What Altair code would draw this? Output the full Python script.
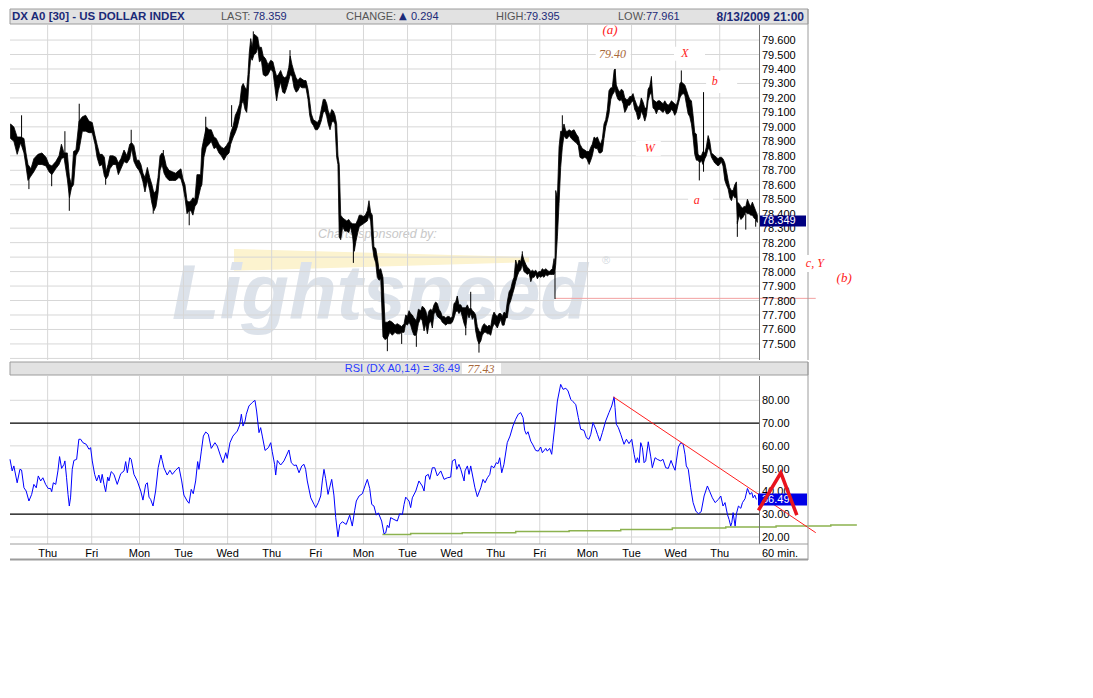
import altair as alt
import pandas as pd

# ---------------- values ----------------
# x = trading hours counted from the first "Thu" gridline (60-min bars)
day_t = [0, 24, 50, 74, 98, 122, 146, 172, 196, 220, 244, 268, 294, 318, 342, 366]
day_lbl = ["Thu", "Fri", "Mon", "Tue", "Wed", "Thu", "Fri", "Mon", "Tue", "Wed",
           "Thu", "Fri", "Mon", "Tue", "Wed", "Thu"]

price_t = [
    -20.2, -18.4, -16.6, -14.7, -12.9, -11.8, -10.7, -9.1, -7.5, -5.3,
    -3.1, -0.9, 0.7, 2.3, 4.4, 6.2, 7.5, 8.9, 10.7, 11.9,
    13.0, 14.1, 15.4, 17.1, 18.9, 20.7, 22.5, 24.3, 25.8, 26.9,
    28.3, 29.7, 30.9, 31.8, 32.9, 33.9, 35.6, 37.2, 38.5, 39.9,
    41.6, 43.2, 44.7, 45.8, 47.0, 48.5, 49.7, 50.8, 51.9, 53.0,
    54.3, 55.6, 56.8, 57.9, 59.0, 60.1, 61.2, 62.3, 63.4, 64.6,
    66.1, 67.9, 69.7, 71.5, 72.6, 73.7, 74.8, 75.9, 77.0, 78.1,
    79.1, 80.2, 81.3,
    83.3, 84.0, 85.1, 86.4, 87.9, 89.1, 90.6, 91.8, 93.3, 94.6,
    96.0, 97.3, 98.8, 99.7, 101.1, 102.2, 103.3, 104.6, 105.7, 106.5,
    107.5, 108.4, 109.1, 109.8, 110.6, 111.4, 112.4, 113.5, 114.4, 115.3,
    116.4, 117.4, 118.7, 120.0, 121.5, 122.7, 123.8, 124.7, 125.6, 126.9,
    128.0, 129.1, 130.2, 131.3, 132.1, 133.1, 134.2, 135.3, 136.3, 137.4,
    138.5, 139.6, 140.7, 141.8, 142.7, 143.6, 144.7, 145.8, 146.9, 147.9,
    149.0, 150.1, 151.1, 152.0, 152.8, 153.8, 154.7, 155.6, 156.5, 157.4,
    158.1, 158.8, 159.6, 160.7, 161.8, 162.9, 164.0, 165.0, 166.1, 167.0,
    167.9, 168.9, 169.7, 170.8, 171.9, 173.0, 174.1, 175.0, 175.9, 176.8,
    177.7, 178.7, 179.5, 180.5, 181.4,
    182.6, 183.7, 185.0, 186.3, 187.7, 189.2, 190.4, 191.7, 192.8, 194.1,
    195.0, 195.9, 196.8, 197.7, 198.6, 199.5, 200.8, 201.9, 203.2, 204.0,
    205.0, 205.9, 206.8, 207.7, 208.6, 209.5, 210.4, 211.3, 212.2, 213.1,
    214.1, 214.9, 215.9, 216.8, 217.7, 218.6, 219.5, 220.4, 221.3, 222.2,
    223.1, 224.0, 225.0, 225.8, 226.8, 227.7, 228.6, 229.5, 230.4, 231.3,
    232.2, 233.1, 234.0, 234.9, 235.9, 236.7, 237.7, 238.6, 239.5, 240.4,
    241.3, 242.2, 243.1, 244.0, 244.9, 245.8, 246.8, 247.6, 248.6, 249.5,
    250.3, 251.3, 252.2, 253.1, 254.0, 254.9, 255.8, 256.7, 257.6, 258.5,
    259.4, 260.4, 261.2, 262.2, 263.1, 264.0, 264.9, 265.8, 266.7, 267.6,
    268.5, 269.4, 270.3, 271.3, 272.1, 273.1, 274.0, 274.9, 275.8, 276.3,
    276.7, 277.6, 278.5, 279.4, 280.3, 281.2, 282.2, 283.0,
    284.0, 285.2, 286.7, 287.9, 289.0, 289.9, 291.2, 292.5, 293.6, 294.9,
    295.8, 296.6, 297.6, 298.5, 299.4, 300.3, 301.2, 302.1, 303.0, 303.9,
    304.8, 305.7, 306.7, 307.5, 308.5, 309.0, 309.7, 310.6, 311.6, 312.4,
    313.4, 314.3, 315.2, 316.1, 317.0, 317.9, 318.8, 319.7, 320.6, 321.5,
    322.5, 323.3, 324.3, 325.2, 326.1, 327.0, 327.9, 328.8, 329.7, 330.6,
    331.5, 332.4, 333.4, 334.2, 335.2, 336.1, 337.0, 337.9, 338.8, 339.7,
    340.6, 341.5, 342.4, 343.3, 344.3, 345.1, 346.1, 347.0, 347.8, 348.8,
    349.7, 350.6, 351.5, 352.4, 353.3, 354.2, 355.1, 356.0, 356.9, 357.9,
    358.7, 359.7, 360.6, 361.5, 362.4, 363.3, 364.2, 365.1, 366.0, 366.9,
    367.8, 368.8, 369.6, 370.6, 371.5, 372.4, 373.3, 374.2, 375.1, 375.6,
    376.6, 377.5, 378.4, 379.3, 380.2, 381.1, 382.0, 382.9, 383.8, 384.7,
    385.6, 386.5,
]
price_hi = [
    79.02, 79.00, 78.93, 78.93, 78.92, 78.82, 78.74, 78.71, 78.78, 78.81,
    78.82, 78.79, 78.74, 78.73, 78.76, 78.80, 78.88, 78.82, 78.82, 78.65,
    78.60, 78.83, 78.84, 79.04, 79.07, 79.08, 79.04, 79.03, 78.94, 78.88,
    78.81, 78.81, 78.79, 78.69, 78.74, 78.80, 78.80, 78.79, 78.75, 78.78,
    78.84, 78.80, 78.88, 78.89, 78.87, 78.77, 78.77, 78.74, 78.68, 78.65,
    78.72, 78.65, 78.60, 78.54, 78.56, 78.65, 78.80, 78.82, 78.80, 78.73,
    78.70, 78.69, 78.68, 78.70, 78.71, 78.64, 78.60, 78.49, 78.48, 78.49,
    78.51, 78.50, 78.67,
    78.67, 78.85, 78.92, 79.00, 78.98, 78.98, 78.93, 78.92, 78.88, 78.86,
    78.85, 78.87, 78.90, 78.96, 79.01, 79.08, 79.11, 79.16, 79.28, 79.30,
    79.27, 79.26, 79.36, 79.51, 79.61, 79.55, 79.64, 79.63, 79.62, 79.55,
    79.55, 79.49, 79.47, 79.43, 79.46, 79.45, 79.39, 79.35, 79.36, 79.39,
    79.35, 79.34, 79.35, 79.41, 79.49, 79.43, 79.38, 79.34, 79.32, 79.34,
    79.33, 79.32, 79.32, 79.26, 79.18, 79.09, 79.05, 79.04, 79.03, 79.05,
    79.12, 79.19, 79.19, 79.16, 79.11, 79.08, 79.12, 79.11, 79.08, 79.02,
    78.80, 78.74, 78.39, 78.37, 78.36, 78.35, 78.36, 78.34, 78.33, 78.33,
    78.33, 78.36, 78.39, 78.39, 78.38, 78.39, 78.42, 78.49, 78.41, 78.39,
    78.17, 78.16, 78.10, 78.01, 78.02,
    77.96, 77.65, 77.65, 77.66, 77.65, 77.63, 77.64, 77.63, 77.62, 77.64,
    77.70, 77.69, 77.73, 77.71, 77.70, 77.68, 77.66, 77.74, 77.73, 77.76,
    77.75, 77.73, 77.68, 77.73, 77.74, 77.73, 77.77, 77.79, 77.78, 77.74,
    77.72, 77.69, 77.69, 77.68, 77.69, 77.69, 77.68, 77.69, 77.78, 77.79,
    77.83, 77.77, 77.77, 77.75, 77.75, 77.75, 77.77, 77.74, 77.75, 77.73,
    77.72, 77.70, 77.62, 77.59, 77.58, 77.62, 77.64, 77.63, 77.62, 77.63,
    77.62, 77.69, 77.72, 77.70, 77.69, 77.71, 77.71, 77.69, 77.72, 77.71,
    77.79, 77.86, 77.88, 77.93, 77.96, 78.08, 78.04, 78.08, 78.07, 78.12,
    78.08, 78.05, 78.03, 78.02, 78.00, 78.01, 78.00, 78.01, 77.99, 78.00,
    78.00, 78.02, 78.01, 78.02, 78.01, 78.00, 78.01, 78.02, 78.09, 78.05,
    78.56, 78.51, 78.86, 78.97, 78.97, 79.02, 78.97, 78.97,
    78.98, 78.97, 78.98, 78.95, 78.93, 78.88, 78.85, 78.84, 78.83, 78.83,
    78.86, 78.88, 78.93, 78.92, 78.93, 78.90, 78.88, 78.92, 79.02, 79.05,
    79.12, 79.25, 79.27, 79.27, 79.39, 79.40, 79.29, 79.26, 79.24, 79.26,
    79.25, 79.20, 79.19, 79.19, 79.21, 79.21, 79.23, 79.19, 79.16, 79.13,
    79.15, 79.20, 79.17, 79.13, 79.13, 79.26, 79.28, 79.34, 79.19, 79.18,
    79.17, 79.18, 79.18, 79.17, 79.16, 79.18, 79.16, 79.15, 79.16, 79.18,
    79.17, 79.16, 79.15, 79.19, 79.30, 79.31, 79.30, 79.29, 79.26, 79.22,
    79.19, 79.18, 79.08, 78.96, 78.95, 78.81, 78.80, 78.80, 78.83, 78.82,
    78.86, 78.94, 78.90, 78.82, 78.81, 78.80, 78.79, 78.78, 78.79, 78.79,
    78.78, 78.75, 78.70, 78.63, 78.58, 78.56, 78.56, 78.60, 78.62, 78.48,
    78.47, 78.45, 78.44, 78.45, 78.45, 78.50, 78.47, 78.45, 78.48, 78.45,
    78.42, 78.39,
]
price_lo = [
    78.92, 78.90, 78.81, 78.89, 78.82, 78.73, 78.63, 78.66, 78.69, 78.74,
    78.74, 78.73, 78.69, 78.67, 78.71, 78.74, 78.78, 78.79, 78.64, 78.51,
    78.58, 78.60, 78.80, 78.84, 78.97, 78.97, 78.96, 78.96, 78.88, 78.79,
    78.73, 78.74, 78.66, 78.64, 78.66, 78.71, 78.74, 78.74, 78.67, 78.71,
    78.76, 78.75, 78.78, 78.85, 78.76, 78.72, 78.70, 78.67, 78.62, 78.55,
    78.63, 78.56, 78.47, 78.42, 78.45, 78.54, 78.70, 78.74, 78.68, 78.65,
    78.63, 78.63, 78.63, 78.65, 78.64, 78.59, 78.51, 78.40, 78.42, 78.42,
    78.39, 78.45, 78.47,
    78.58, 78.60, 78.79, 78.86, 78.88, 78.90, 78.85, 78.86, 78.82, 78.80,
    78.77, 78.80, 78.82, 78.88, 78.93, 78.96, 79.00, 79.07, 79.16, 79.18,
    79.12, 79.10, 79.20, 79.36, 79.48, 79.46, 79.50, 79.51, 79.55, 79.45,
    79.46, 79.36, 79.35, 79.36, 79.40, 79.38, 79.27, 79.18, 79.25, 79.31,
    79.24, 79.23, 79.27, 79.32, 79.36, 79.35, 79.27, 79.24, 79.25, 79.28,
    79.27, 79.27, 79.27, 79.19, 79.08, 79.03, 79.01, 78.98, 78.98, 79.00,
    79.04, 79.10, 79.11, 79.07, 79.02, 78.98, 79.03, 79.04, 79.02, 78.79,
    78.74, 78.24, 78.22, 78.31, 78.28, 78.28, 78.27, 78.31, 78.24, 78.14,
    78.21, 78.27, 78.31, 78.32, 78.33, 78.34, 78.35, 78.39, 78.35, 78.18,
    78.10, 78.06, 77.96, 77.94, 77.95,
    77.55, 77.53, 77.54, 77.58, 77.56, 77.58, 77.57, 77.57, 77.58, 77.58,
    77.64, 77.63, 77.65, 77.63, 77.59, 77.56, 77.56, 77.64, 77.68, 77.66,
    77.59, 77.64, 77.57, 77.64, 77.66, 77.61, 77.71, 77.72, 77.69, 77.68,
    77.67, 77.65, 77.64, 77.63, 77.64, 77.64, 77.64, 77.65, 77.68, 77.72,
    77.73, 77.71, 77.73, 77.69, 77.64, 77.61, 77.71, 77.68, 77.71, 77.67,
    77.69, 77.59, 77.53, 77.50, 77.52, 77.56, 77.58, 77.58, 77.57, 77.57,
    77.56, 77.61, 77.64, 77.63, 77.61, 77.64, 77.67, 77.63, 77.63, 77.68,
    77.68, 77.77, 77.80, 77.84, 77.88, 77.93, 77.97, 78.00, 78.01, 78.05,
    78.00, 77.99, 77.98, 77.99, 77.93, 77.96, 77.96, 77.98, 77.95, 77.97,
    77.96, 77.97, 77.96, 77.98, 77.97, 77.98, 77.98, 77.98, 77.98, 78.00,
    78.05, 78.24, 78.47, 78.72, 78.86, 78.94, 78.92, 78.92,
    78.94, 78.92, 78.90, 78.89, 78.87, 78.79, 78.78, 78.79, 78.78, 78.74,
    78.77, 78.80, 78.86, 78.85, 78.85, 78.82, 78.82, 78.83, 78.92, 79.00,
    79.04, 79.09, 79.19, 79.22, 79.24, 79.26, 79.22, 79.19, 79.18, 79.19,
    79.16, 79.10, 79.12, 79.15, 79.15, 79.17, 79.18, 79.12, 79.10, 79.05,
    79.06, 79.11, 79.08, 79.04, 79.08, 79.18, 79.22, 79.24, 79.13, 79.12,
    79.09, 79.12, 79.12, 79.11, 79.10, 79.12, 79.09, 79.09, 79.10, 79.12,
    79.11, 79.08, 79.10, 79.15, 79.20, 79.22, 79.23, 79.22, 79.16, 79.09,
    79.07, 79.02, 78.93, 78.81, 78.77, 78.77, 78.75, 78.77, 78.74, 78.78,
    78.80, 78.85, 78.84, 78.79, 78.77, 78.75, 78.74, 78.73, 78.74, 78.76,
    78.73, 78.63, 78.60, 78.57, 78.51, 78.49, 78.53, 78.51, 78.51, 78.33,
    78.39, 78.36, 78.37, 78.39, 78.41, 78.40, 78.40, 78.39, 78.39, 78.37,
    78.36, 78.34,
]

# long single-bar wicks
spike_t = [-14.2, -10.2, 2.2, 9.4, 11.8, 17.2, 31.6, 45.5, 57.5, 63.0,
           77.1, 86.1, 100.2, 112.0, 132.0, 166.5, 185.0, 192.8, 200.8, 223.1,
           227.7, 230.4, 234.9, 258.5, 276.3, 280.3, 309.0, 328.8, 345.1, 354.9,
           357.2, 375.6, 380.2, 385.6]
spike_hi = [79.08, 78.70, 78.70, 78.97, 78.65, 79.16, 78.70, 78.98, 78.55, 78.84,
            78.48, 79.07, 79.15, 79.66, 79.53, 78.30, 77.55, 77.58, 77.56, 77.83,
            77.62, 77.86, 77.52, 78.14, 78.00, 79.08, 79.40, 79.35, 79.39, 78.75,
            79.24, 78.35, 78.40, 78.36]
spike_lo = [78.92, 78.57, 78.59, 78.80, 78.42, 79.00, 78.60, 78.85, 78.40, 78.75,
            78.32, 78.95, 79.00, 79.55, 79.40, 78.06, 77.45, 77.50, 77.48, 77.75,
            77.56, 77.75, 77.44, 78.08, 77.81, 78.95, 79.30, 79.25, 79.28, 78.63,
            78.69, 78.24, 78.29, 78.31]

rsi_t = [
    -20.5, -19.3, -18.4, -16.6, -15.1, -14.2, -12.9, -11.7, -10.2, -8.7,
    -7.5, -6.2, -5.1, -3.8, -2.6, -1.1, 0.3, 1.6, 2.2, 3.1,
    4.4, 5.6, 6.5, 7.6, 8.9, 9.4, 10.3, 11.1, 11.8, 12.5,
    13.4, 14.3, 15.8, 17.0, 18.0, 19.2, 21.0, 22.5, 23.4, 24.3,
    25.6, 26.7, 27.9, 28.9, 29.7, 30.7, 31.6, 32.7, 33.4, 34.6,
    36.1, 37.9, 39.8, 41.6, 42.5, 43.4, 44.7, 45.5, 47.0, 48.8,
    50.7, 51.9, 53.4, 54.3, 55.2, 56.1, 57.4, 58.8, 60.2, 61.7,
    62.4, 63.3, 65.1, 66.6, 67.9, 69.7, 71.5, 73.0, 74.2, 76.0,
    77.0, 78.2, 79.3, 80.6, 81.7, 82.4, 83.7, 84.8, 86.1, 87.5,
    89.1, 91.1, 92.4, 94.2, 95.5, 97.0, 97.8, 99.3, 100.9, 103.3,
    104.6, 105.5, 106.4, 107.5, 108.2, 109.6, 111.4, 112.9, 113.8, 115.1,
    116.0, 116.9, 118.4, 120.2, 121.5, 122.3, 123.6, 124.2, 125.1, 126.9,
    128.7, 131.4, 132.7, 134.2, 135.4, 136.9, 138.4, 139.6, 140.5, 141.4,
    143.3, 145.1, 146.0, 147.4, 148.7, 149.6, 150.5, 151.4, 152.7, 153.8,
    154.7, 155.9, 156.9, 158.1, 159.1, 160.5, 162.6, 164.5, 165.9, 167.2,
    168.1, 169.6, 171.4, 172.8, 174.1, 175.4, 176.5, 177.7, 179.0, 180.1,
    181.9, 183.2, 184.1, 185.0, 185.9, 186.8, 188.6, 190.4, 191.7, 193.2,
    194.1, 195.0, 196.8, 197.7, 198.6, 200.5, 202.2, 204.0, 205.0, 205.9,
    207.3, 208.1, 209.5, 210.8, 212.2, 214.1, 215.9, 217.7, 219.5, 220.4,
    221.9, 222.8, 224.0, 225.0, 226.8, 227.3, 228.6, 229.5, 230.4, 232.7,
    234.0, 235.9, 237.1, 238.2, 239.5, 240.8, 241.6, 243.1, 244.3, 245.3,
    246.2, 247.3, 248.5, 250.3, 251.8, 253.4, 254.9, 256.3, 257.6, 258.9,
    259.8, 260.7, 261.6, 263.1, 264.3, 265.8, 267.2, 268.5, 269.4, 271.3,
    272.1, 273.4, 274.5, 275.2, 276.3, 277.6, 279.4, 280.7, 282.2, 283.4,
    284.9, 286.1, 287.6, 289.0, 290.3, 292.1, 293.4, 294.8, 295.8, 297.0,
    298.5, 299.4, 300.7, 302.1, 303.9, 305.7, 307.2, 308.5, 309.0, 309.7,
    310.8, 312.1, 313.9, 315.2, 316.6, 318.1, 319.4, 320.3, 321.2, 322.1,
    323.0, 323.9, 324.8, 325.7, 327.1, 328.4, 329.3, 330.8, 332.0, 333.9,
    335.1, 336.6, 338.0, 339.5, 340.6, 341.7, 342.4, 343.5, 344.8, 346.1,
    347.1, 347.8, 348.9, 350.2, 351.5, 353.0, 354.4, 355.9, 357.5, 359.3,
    360.6, 362.0, 363.5, 365.3, 366.6, 367.8, 368.9, 370.2, 371.1, 372.0,
    372.6, 373.3, 374.4, 375.1, 376.2, 377.5, 378.4, 379.8, 381.1, 382.4,
    383.5, 384.2, 385.1, 386.0,
]
rsi_v = [
    54.1, 49.0, 51.2, 43.8, 49.7, 49.4, 41.6, 40.2, 35.8, 38.7,
    43.1, 41.6, 46.8, 44.6, 46.0, 43.1, 41.3, 41.3, 39.9, 43.8,
    43.1, 49.0, 55.3, 50.1, 51.9, 53.4, 46.0, 38.7, 33.6, 37.5,
    49.7, 53.6, 54.1, 62.9, 62.9, 61.4, 60.7, 58.5, 59.2, 53.4,
    47.5, 44.6, 47.2, 43.8, 47.5, 43.1, 39.9, 46.3, 44.6, 48.7,
    47.5, 43.1, 47.8, 49.0, 53.1, 48.2, 54.8, 54.1, 47.5, 44.6,
    40.2, 36.2, 43.1, 43.8, 37.5, 36.5, 33.6, 40.2, 50.4, 56.0,
    53.6, 50.4, 47.2, 49.3, 47.5, 49.3, 50.7, 44.6, 38.4, 35.8,
    34.8, 40.9, 39.0, 44.6, 53.1, 49.7, 57.7, 64.3, 66.1, 65.1,
    58.9, 61.4, 59.9, 55.5, 52.6, 57.0, 54.5, 61.4, 64.3, 66.5,
    69.2, 73.9, 68.7, 70.9, 73.9, 77.5, 79.0, 80.0, 75.3, 65.8,
    68.0, 64.3, 58.0, 59.2, 61.4, 57.5, 51.9, 47.2, 53.6, 51.6,
    53.4, 58.2, 52.6, 51.4, 51.6, 48.2, 51.2, 51.9, 49.7, 44.6,
    37.2, 34.3, 32.9, 35.1, 38.0, 44.6, 49.7, 45.7, 38.7, 42.4,
    45.3, 38.4, 28.5, 20.1, 25.5, 26.7, 25.5, 29.6, 24.8, 31.7,
    35.8, 38.0, 39.0, 42.4, 45.3, 41.3, 34.3, 33.6, 29.6, 30.6,
    27.0, 21.4, 21.8, 25.2, 24.1, 28.5, 27.7, 27.0, 30.2, 29.9,
    34.3, 37.5, 35.8, 32.9, 37.2, 40.2, 44.6, 42.4, 40.2, 46.8,
    47.5, 45.3, 50.4, 50.4, 46.8, 49.0, 45.3, 46.0, 46.3, 53.4,
    54.1, 49.7, 51.9, 49.7, 44.6, 49.0, 51.2, 47.5, 51.2, 41.6,
    37.7, 41.6, 45.3, 43.8, 46.0, 47.5, 51.2, 50.4, 52.6, 52.2,
    54.8, 48.2, 51.9, 61.4, 64.3, 68.7, 71.7, 73.9, 74.6, 72.4,
    66.8, 65.1, 66.2, 62.1, 60.4, 58.0, 57.7, 59.5, 57.0, 58.9,
    57.7, 58.9, 56.3, 61.4, 69.5, 79.7, 87.0, 84.8, 85.3, 84.1,
    80.4, 79.4, 78.2, 72.4, 67.3, 66.8, 63.6, 62.9, 65.1, 70.2,
    67.3, 65.1, 62.1, 65.8, 70.9, 74.6, 77.5, 81.5, 76.8, 69.5,
    68.0, 65.1, 60.7, 62.9, 61.0, 62.9, 56.3, 52.6, 54.8, 52.6,
    61.4, 59.2, 52.6, 53.4, 61.8, 55.5, 50.4, 54.8, 54.1, 53.4,
    54.1, 50.4, 50.1, 53.6, 51.2, 49.3, 53.4, 59.5, 61.4, 60.7,
    56.3, 51.2, 49.7, 41.6, 35.1, 31.4, 30.2, 31.1, 38.0, 42.4,
    39.9, 37.2, 35.1, 36.5, 38.0, 33.6, 35.1, 29.9, 27.7, 24.8,
    26.3, 30.7, 24.8, 30.2, 33.6, 32.6, 35.1, 36.8, 41.3, 38.7,
    39.5, 37.2, 38.4, 36.5,
]

trend_t = [308.1, 418.3]
trend_v = [81.5, 21.9]
green_t = [182.3, 197.7, 225.8, 254.9, 284.0, 312.1, 340.2, 369.3, 396.7, 426.5, 440.7]
green_v = [21.1, 21.5, 21.9, 22.4, 22.8, 23.3, 23.9, 24.4, 24.8, 25.3, 25.3]
wave_t = [387.1, 399.3, 408.0]
wave_v = [31.7, 48.2, 29.6]
support_t = [276.3, 418.3]
support_p = [77.815]

ann_txt = ["(a)", "X", "b", "W", "a", "c, Y", "(b)"]
ann_t = [306.3, 347.0, 363.3, 327.9, 353.5, 417.8, 433.8]
ann_p = [79.666, 79.51, 79.315, 78.854, 78.494, 78.059, 77.955]
ann_sz = [13, 12, 12, 12, 12, 12, 13]
peak_txt, peak_t, peak_p = "79.40", 307.6, 79.503

box_t1 = [298.5, 341.1, 358.6, 320.3, 348.8]
box_t2 = [317.5, 358.0, 375.5, 333.9, 362.4]
box_p1 = [79.554, 79.554, 79.386, 78.904, 78.55]
box_p2 = [79.457, 79.457, 79.234, 78.800, 78.41]

wedge_t = [101.5, 262.2]
wedge_top = [78.156, 78.100]
wedge_bot = [78.006, 78.065]

price_grid = [77.4, 77.5, 77.6, 77.7, 77.8, 77.9, 78.0, 78.1, 78.2, 78.3, 78.4, 78.5,
              78.6, 78.7, 78.8, 78.9, 79.0, 79.1, 79.2, 79.3, 79.4, 79.5, 79.6]
price_labels = [77.5, 77.6, 77.7, 77.8, 77.9, 78.0, 78.1, 78.2, 78.3, 78.4, 78.5,
                78.6, 78.7, 78.8, 78.9, 79.0, 79.1, 79.2, 79.3, 79.4, 79.5, 79.6]
rsi_labels = [20, 30, 40, 50, 60, 70, 80]
rsi_grid = [20, 40, 50, 60, 80]
rsi_bands = [30, 70]

title_txt = "DX A0 [30] - US DOLLAR INDEX"
last_txt, change_txt, high_txt, low_txt = "78.359", "0.294", "79.395", "77.961"
date_txt = "8/13/2009 21:00"
last_price = 78.349
last_rsi = 36.49
low_mark = "77.43"
interval_txt = "60 min."

# ---------------- layout / style ----------------
W = 749
H_P = 335
H_R = 168
FONT = "Liberation Sans"
SERIF = "Liberation Serif"
GRID = "#d7d7d7"
FRAME = "#9c9c9c"
AXIS = "#707070"
NAVY = "#1b2a78"
RED = "#ff1a1a"
BROWN = "#a8683a"

xs = alt.Scale(domain=[-20.5, 387.4], nice=False, zero=False)
ps = alt.Scale(domain=[77.389, 79.704], nice=False, zero=False)
rs = alt.Scale(domain=[16.93, 90.67], nice=False, zero=False)
X = alt.X("t:Q", scale=xs, axis=None)


def PY(field):
    return alt.Y(field, scale=ps, axis=None)


def RY(field):
    return alt.Y(field, scale=rs, axis=None)


one = pd.DataFrame({"k": [0]})


def txt(s, x, y, size=11, color="black", align="left", weight="normal",
        style="normal", font=FONT, baseline="middle"):
    return alt.Chart(one).mark_text(
        text=s, align=align, baseline=baseline, fontSize=size, color=color,
        fontWeight=weight, fontStyle=style, font=font
    ).encode(x=alt.value(x), y=alt.value(y))


def box(x1, x2, y1, y2, fill, stroke=None):
    kw = {"fill": fill}
    if stroke:
        kw["stroke"] = stroke
        kw["strokeWidth"] = 1
    return alt.Chart(one).mark_rect(**kw).encode(
        x=alt.value(x1), x2=alt.value(x2), y=alt.value(y1), y2=alt.value(y2))


def hline(x1, x2, y, color, width=1):
    return alt.Chart(one).mark_rule(color=color, strokeWidth=width).encode(
        x=alt.value(x1), x2=alt.value(x2), y=alt.value(y))


def vline(x, y1, y2, color, width=1):
    return alt.Chart(one).mark_rule(color=color, strokeWidth=width).encode(
        x=alt.value(x), y=alt.value(y1), y2=alt.value(y2))


# ---------------- price panel ----------------
price_df = pd.DataFrame({"t": price_t, "hi": price_hi, "lo": price_lo})
spike_df = pd.DataFrame({"t": spike_t, "hi": spike_hi, "lo": spike_lo})

wedge = alt.Chart(pd.DataFrame({"t": wedge_t, "top": wedge_top, "bot": wedge_bot})).mark_area(
    color="#fcf3cf").encode(x=X, y=PY("top:Q"), y2="bot:Q")
logo = txt("Lightspeed", 162, 294, size=78, color="#dce2ea", weight="bold",
           style="italic", baseline="alphabetic")
sponsor = txt("Charts sponsored by:", 308, 209, size=12.5, color="#c8c8c8", style="italic")
regmark = txt("®", 592, 236, size=11, color="#d2d8e0")

hgrid_p = alt.Chart(pd.DataFrame({"p": price_grid})).mark_rule(color=GRID).encode(y=PY("p:Q"))
vgrid = alt.Chart(pd.DataFrame({"t": day_t})).mark_rule(color=GRID).encode(x=X)
plab = alt.Chart(pd.DataFrame({"p": price_labels,
                               "s": [f"{v:.3f}" for v in price_labels]})).mark_text(
    font=FONT, fontSize=11, align="left", baseline="middle", dy=1, color="black").encode(
    x=alt.value(752), y=PY("p:Q"), text="s:N")

white_boxes = alt.Chart(pd.DataFrame({"t1": box_t1, "t2": box_t2, "p1": box_p1, "p2": box_p2})).mark_rect(
    color="white").encode(x=alt.X("t1:Q", scale=xs, axis=None), x2="t2:Q", y=PY("p1:Q"), y2="p2:Q")

support = alt.Chart(pd.DataFrame({"t1": [support_t[0]], "t2": [support_t[1]], "p": support_p})).mark_rule(
    color="#f3a0a0", strokeWidth=1).encode(x=alt.X("t1:Q", scale=xs, axis=None), x2="t2:Q", y=PY("p:Q"))

band = alt.Chart(price_df).mark_area(color="black", stroke="black", strokeWidth=0.8).encode(
    x=X, y=PY("hi:Q"), y2="lo:Q")
spikes = alt.Chart(spike_df).mark_rule(color="black", strokeWidth=1).encode(
    x=X, y=PY("hi:Q"), y2="lo:Q")

ann = alt.Chart(pd.DataFrame({"t": ann_t, "p": ann_p, "txt": ann_txt, "sz": ann_sz})).mark_text(
    font=SERIF, fontStyle="italic", color=RED, baseline="middle").encode(
    x=X, y=PY("p:Q"), text="txt:N", size=alt.Size("sz:Q", scale=None, legend=None))
peak = alt.Chart(pd.DataFrame({"t": [peak_t], "p": [peak_p], "txt": [peak_txt]})).mark_text(
    font=SERIF, fontStyle="italic", color=BROWN, fontSize=12, baseline="middle").encode(
    x=X, y=PY("p:Q"), text="txt:N")

price_layers = [
    wedge, logo, sponsor, regmark,
    hgrid_p, vgrid, white_boxes, support, band, spikes,
    plab, vline(749.5, 0, H_P, AXIS),
    box(750, 796, 190.5, 201.5, "#000080"),
    txt(f"{last_price:.3f}", 752, 196, color="white"),
    box(0, 798, -16, -1, "#e2e2e2", FRAME),
    txt(title_txt, 2, -8, size=11.5, color=NAVY, weight="bold"),
    txt("LAST:", 211, -8, color="#555555"),
    txt(last_txt, 243, -8, color=NAVY),
    txt("CHANGE:", 336, -8, color="#555555"),
    txt("▲", 389, -9, size=10, color=NAVY, font="DejaVu Sans"),
    txt(change_txt, 401, -8, color=NAVY),
    txt("HIGH:", 486, -8, color="#555555"),
    txt(high_txt, 516, -8, color=NAVY),
    txt("LOW:", 608, -8, color="#555555"),
    txt(low_txt, 636, -8, color=NAVY),
    txt(date_txt, 794, -8, size=12, color=NAVY, weight="bold", align="right"),
    vline(798, -16, H_P, FRAME),
    box(794, 817, 230, 247, "white"),
    ann, peak,
]
price_chart = alt.layer(*price_layers).properties(width=W, height=H_P)

# ---------------- RSI panel ----------------
hgrid_r = alt.Chart(pd.DataFrame({"r": rsi_grid})).mark_rule(color=GRID).encode(y=RY("r:Q"))
rlab = alt.Chart(pd.DataFrame({"r": rsi_labels,
                               "s": [f"{v:.2f}" for v in rsi_labels]})).mark_text(
    font=FONT, fontSize=11, align="left", baseline="middle", dy=1, color="black").encode(
    x=alt.value(752), y=RY("r:Q"), text="s:N")
bands = alt.Chart(pd.DataFrame({"r": rsi_bands})).mark_rule(color="black", strokeWidth=1.2).encode(
    y=RY("r:Q"))
green = alt.Chart(pd.DataFrame({"t": green_t, "r": green_v})).mark_line(
    color="#8cb24f", strokeWidth=1.5, interpolate="step-after").encode(x=X, y=RY("r:Q"))
rsi_line = alt.Chart(pd.DataFrame({"t": rsi_t, "r": rsi_v})).mark_line(
    color="#0000ff", strokeWidth=1).encode(x=X, y=RY("r:Q"))
trend = alt.Chart(pd.DataFrame({"t": trend_t, "r": trend_v})).mark_line(
    color="#ff2020", strokeWidth=1).encode(x=X, y=RY("r:Q"))
wave = alt.Chart(pd.DataFrame({"t": wave_t, "r": wave_v})).mark_line(
    color="#e8141e", strokeWidth=3.5, strokeJoin="miter").encode(x=X, y=RY("r:Q"))
day_text = alt.Chart(pd.DataFrame({"t": day_t, "lbl": day_lbl})).mark_text(
    font=FONT, fontSize=11, baseline="middle", color="black").encode(
    x=X, y=alt.value(178), text="lbl:N")

rsi_layers = [
    hgrid_r, vgrid, bands, green, rsi_line,
    rlab, vline(749.5, 0, H_R, AXIS),
    trend,
    box(748, 797, 117.5, 129.5, "#0000e6"),
    txt(f"{last_rsi:.2f}", 752, 123.5, color="white"),
    wave, day_text,
    txt(interval_txt, 752, 178),
    box(0, 798, -14, -1, "#e2e2e2", FRAME),
    txt(f"RSI (DX A0,14) = {last_rsi:.2f}", 450, -7, color="#2a3cff", align="right"),
    box(452, 491, -13, -2, "white"),
    txt(low_mark, 471, -7, size=12, color=BROWN, align="center", style="italic", font=SERIF),
    hline(0, 798, H_R, FRAME),
    hline(0, 798, H_R + 15.5, FRAME, 2),
    vline(798, -14, H_R + 16, FRAME),
]
rsi_chart = alt.layer(*rsi_layers).properties(width=W, height=H_R)

chart = alt.vconcat(price_chart, rsi_chart, spacing=0).properties(
    padding={"left": 0, "top": 0, "right": 10, "bottom": 10}
).configure_view(stroke=None)

chart.save("out.html", embed_options={"renderer": "svg", "actions": False})
